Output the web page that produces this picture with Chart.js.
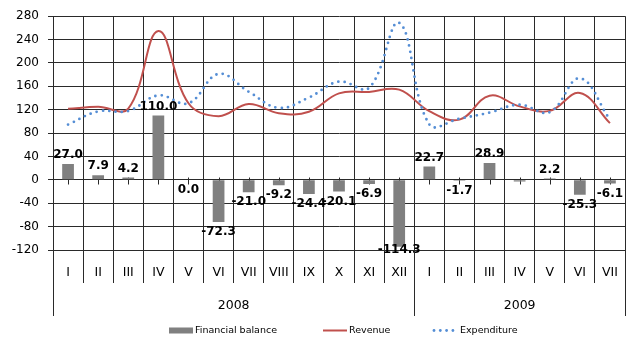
<!DOCTYPE html>
<html>
<head>
<meta charset="utf-8">
<script src="https://cdn.jsdelivr.net/npm/chart.js@4.4.1/dist/chart.umd.min.js"></script>
<style>
  html, body { margin: 0; padding: 0; background: #ffffff; }
  #wrap { width: 630px; height: 340px; }
</style>
</head>
<body>
<div id="wrap"><canvas id="chart" width="630" height="340"></canvas></div>
<script>
// Monthly state budget figures (billions), 2008 - July 2009
const months = ['I', 'II', 'III', 'IV', 'V', 'VI', 'VII', 'VIII', 'IX', 'X', 'XI', 'XII',
                'I', 'II', 'III', 'IV', 'V', 'VI', 'VII'];
const years = ['2008', '2009'];
const monthsInYear = [12, 7];

const financialBalance = [27.0, 7.9, 4.2, 110.0, 0.0, -72.3, -21.0, -9.2, -24.4, -20.1, -6.9, -114.3,
                          22.7, -1.7, 28.9, -2.9, 2.2, -25.3, -6.1];
const revenue = [121.5, 125.0, 122.0, 254.5, 131.0, 109.0, 129.8, 114.0, 116.4, 148.0, 150.5, 154.3,
                 117.5, 103.0, 144.0, 125.7, 118.0, 148.5, 97.0];
const expenditure = [94.5, 117.1, 117.8, 144.5, 131.0, 181.3, 150.8, 123.2, 140.8, 168.1, 157.4, 268.6,
                     94.8, 104.7, 115.1, 128.6, 115.8, 173.8, 103.1];

// balance values printed without a label
const unlabelled = [15];

const yMin = -120, yMax = 280, yStep = 40;

const gridColor = '#2a2a2a';
const barColor = '#808080';
const revenueColor = '#C0504D';
const expenditureColor = '#558ED5';
const tickFont = '"DejaVu Sans", sans-serif';

// short tick marks on the zero line, under the bars
const zeroTicks = {
  id: 'zeroTicks',
  beforeDatasetsDraw(chart) {
    const { ctx, scales: { x, y } } = chart;
    const y0 = Math.round(y.getPixelForValue(0)) + 0.5;
    ctx.save();
    ctx.strokeStyle = gridColor;
    ctx.lineWidth = 1;
    months.forEach((m, i) => {
      const px = Math.round(x.getPixelForValue(i)) + 0.5;
      ctx.beginPath();
      ctx.moveTo(px, y0 - 3);
      ctx.lineTo(px, y0 + 4);
      ctx.stroke();
    });
    ctx.restore();
  }
};

// value labels of the balance bars
const barLabels = {
  id: 'barLabels',
  afterDatasetsDraw(chart) {
    const { ctx, chartArea } = chart;
    const meta = chart.getDatasetMeta(0);
    ctx.save();
    ctx.font = 'bold 12px ' + tickFont;
    ctx.fillStyle = '#000000';
    ctx.textAlign = 'center';
    ctx.textBaseline = 'middle';
    meta.data.forEach((bar, i) => {
      if (unlabelled.includes(i)) return;
      const v = financialBalance[i];
      let ty;
      if (v > 0) {
        ty = bar.y - 9;
      } else {
        ty = Math.min(bar.y + 10, chartArea.bottom);
      }
      ctx.fillText(v.toFixed(1), bar.x, ty);
    });
    ctx.restore();
  }
};

// two-level category axis (months / years) and the legend
const axisAndLegend = {
  id: 'axisAndLegend',
  afterDraw(chart) {
    const { ctx, chartArea: a, scales: { x } } = chart;
    const half = (x.getPixelForValue(1) - x.getPixelForValue(0)) / 2;
    ctx.save();

    // year separators
    const bounds = [a.left];
    let idx = 0;
    monthsInYear.forEach(n => { idx += n; bounds.push(x.getPixelForValue(idx - 1) + half); });
    ctx.strokeStyle = gridColor;
    ctx.lineWidth = 1;
    bounds.forEach(b => {
      const px = Math.round(b) + 0.5;
      ctx.beginPath();
      ctx.moveTo(px, a.bottom);
      ctx.lineTo(px, 316);
      ctx.stroke();
    });

    // month labels
    ctx.fillStyle = '#000000';
    ctx.font = '12.5px ' + tickFont;
    ctx.textAlign = 'center';
    ctx.textBaseline = 'middle';
    months.forEach((m, i) => ctx.fillText(m, x.getPixelForValue(i), 273));

    // year labels
    years.forEach((yr, k) => ctx.fillText(yr, (bounds[k] + bounds[k + 1]) / 2, 305.5));

    // legend
    const ly = 330.5;
    const ds = chart.data.datasets;
    ctx.font = '9.5px ' + tickFont;
    ctx.textAlign = 'left';

    ctx.fillStyle = ds[0].backgroundColor;
    ctx.fillRect(169, ly - 3, 24, 6);
    ctx.fillStyle = '#000000';
    ctx.fillText(ds[0].label, 195, ly);

    ctx.strokeStyle = ds[1].borderColor;
    ctx.lineWidth = 2;
    ctx.beginPath();
    ctx.moveTo(323, ly);
    ctx.lineTo(347, ly);
    ctx.stroke();
    ctx.fillText(ds[1].label, 349, ly);

    ctx.fillStyle = ds[2].borderColor;
    for (let px = 434; px <= 457; px += 6.3) {
      ctx.beginPath();
      ctx.arc(px, ly, 1.4, 0, Math.PI * 2);
      ctx.fill();
    }
    ctx.fillStyle = '#000000';
    ctx.fillText(ds[2].label, 460, ly);

    ctx.restore();
  }
};

new Chart(document.getElementById('chart'), {
  type: 'bar',
  data: {
    labels: months,
    datasets: [
      {
        type: 'bar',
        label: 'Financial balance',
        data: financialBalance,
        backgroundColor: barColor,
        borderWidth: 0,
        barPercentage: 0.39,
        categoryPercentage: 1.0,
        order: 3
      },
      {
        type: 'line',
        label: 'Revenue',
        data: revenue,
        borderColor: revenueColor,
        borderWidth: 2,
        tension: 0.4,
        pointRadius: 0,
        fill: false,
        order: 2
      },
      {
        type: 'line',
        label: 'Expenditure',
        data: expenditure,
        borderColor: expenditureColor,
        borderWidth: 2.8,
        borderDash: [0, 6.3],
        borderCapStyle: 'round',
        tension: 0.4,
        pointRadius: 0,
        fill: false,
        order: 1
      }
    ]
  },
  options: {
    responsive: false,
    animation: false,
    devicePixelRatio: 1,
    layout: { padding: { top: 15, right: 5, left: 0, bottom: 0 } },
    plugins: {
      legend: { display: false },
      tooltip: { enabled: false }
    },
    scales: {
      x: {
        type: 'category',
        offset: true,
        afterFit(scale) { scale.height = 90; },
        grid: {
          offset: true,
          color: gridColor,
          lineWidth: 1,
          drawTicks: true,
          tickLength: 33,
          tickColor: gridColor
        },
        border: { display: true, color: gridColor, width: 1 },
        ticks: { display: false }
      },
      y: {
        min: yMin,
        max: yMax,
        afterFit(scale) { scale.width = 53; },
        ticks: {
          stepSize: yStep,
          padding: 9,
          color: '#000000',
          font: { family: '"DejaVu Sans", sans-serif', size: 12 }
        },
        grid: {
          color: gridColor,
          lineWidth: 1,
          drawTicks: true,
          tickLength: 5,
          tickColor: gridColor
        },
        border: { display: true, color: gridColor, width: 1 }
      }
    }
  },
  plugins: [zeroTicks, barLabels, axisAndLegend]
});
</script>
</body>
</html>
